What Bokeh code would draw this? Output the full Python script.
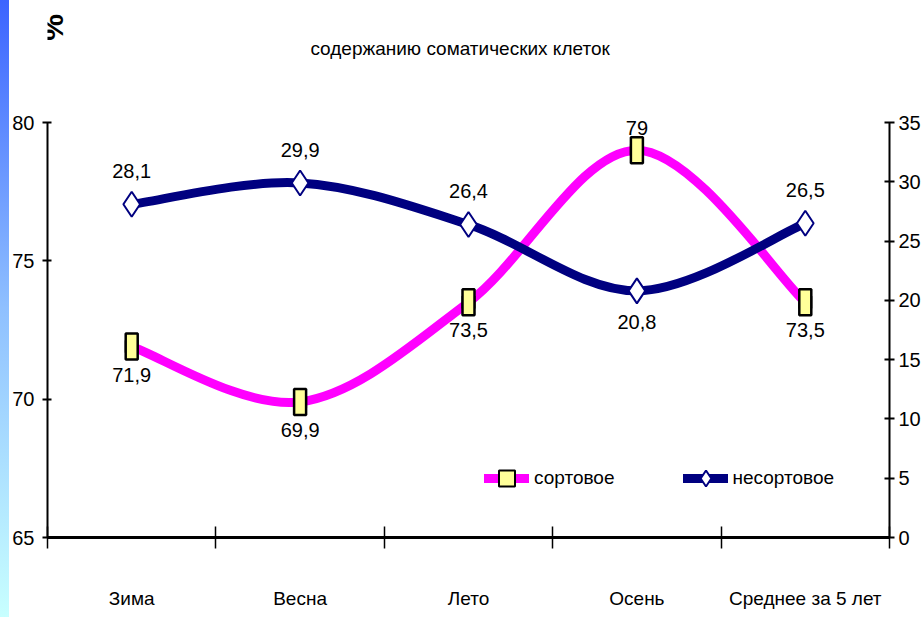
import numpy as np
from bokeh.plotting import figure
from bokeh.models import (Range1d, LinearAxis, FixedTicker, Legend, LegendItem,
                          Div, ColumnDataSource)
from bokeh.layouts import row
from bokeh.core.properties import value
from bokeh.embed import file_html
from bokeh.resources import INLINE

# ---- data ----
categories = ["Зима", "Весна", "Лето", "Осень", "Среднее за 5 лет"]
sortovoe = [71.9, 69.9, 73.5, 79.0, 73.5]          # left axis, %
nesortovoe = [28.1, 29.9, 26.4, 20.8, 26.5]        # right axis
left_ticks = [65, 70, 75, 80]
right_ticks = [0, 5, 10, 15, 20, 25, 30, 35]
series_names = ["сортовое", "несортовое"]
title_text = "содержанию соматических клеток"
unit_text = "%"

FONT = "Liberation Sans"
PINK = "#FF00FF"
NAVY = "#000080"
YELLOW = "#FFFF99"

# layout in pixels
FRAME_TOP_PAD = 122      # space above the 80 / 35 tick inside the frame
FRAME_H = 537            # frame height (page y of x axis)
AXIS_H = FRAME_H - FRAME_TOP_PAD
STRIP_W = 9


def fmt(v):
    return f"{v:g}".replace(".", ",")


def smooth_segments(xs, ys):
    """Bezier segments through the points (Excel-like smoothed line)."""
    n = len(xs)
    d = dict(x0=[], y0=[], x1=[], y1=[], cx0=[], cy0=[], cx1=[], cy1=[])
    for i in range(n - 1):
        a, b = max(i - 1, 0), min(i + 2, n - 1)
        d["x0"].append(xs[i]); d["y0"].append(ys[i])
        d["x1"].append(xs[i + 1]); d["y1"].append(ys[i + 1])
        d["cx0"].append(xs[i] + (xs[i + 1] - xs[a]) / 6)
        d["cy0"].append(ys[i] + (ys[i + 1] - ys[a]) / 6)
        d["cx1"].append(xs[i + 1] - (xs[b] - xs[i]) / 6)
        d["cy1"].append(ys[i + 1] - (ys[b] - ys[i]) / 6)
    return ColumnDataSource(d)


def ext_top(lo, hi):
    return hi + (hi - lo) * FRAME_TOP_PAD / AXIS_H


xpos = list(range(len(categories)))
lmin, lmax = min(left_ticks), max(left_ticks)
rmin, rmax = min(right_ticks), max(right_ticks)
ltop = ext_top(lmin, lmax)

p = figure(width=923 - STRIP_W, height=617, output_backend="svg", toolbar_location=None,
           x_range=Range1d(-0.5, len(categories) - 0.5),
           y_range=Range1d(lmin, ltop),
           min_border_left=38, min_border_right=31, min_border_top=0,
           min_border_bottom=617 - FRAME_H, margin=0)
p.extra_y_ranges = {"right": Range1d(rmin, ext_top(rmin, rmax))}
p.grid.visible = False
p.outline_line_color = None
p.background_fill_color = "white"
p.border_fill_color = "white"

# x axis: labels at category centres, tick marks between categories
xa = p.xaxis[0]
xa.ticker = FixedTicker(ticks=xpos, minor_ticks=[x - 0.5 for x in xpos] + [xpos[-1] + 0.5])
xa.major_label_overrides = {i: c for i, c in enumerate(categories)}
xa.major_tick_line_color = None
xa.major_tick_out = 0
xa.major_tick_in = 0
xa.minor_tick_in = 11
xa.minor_tick_out = 11
xa.minor_tick_line_color = "black"
xa.minor_tick_line_width = 1.5
xa.axis_line_width = 3
xa.axis_line_color = "black"
xa.major_label_standoff = 39
xa.major_label_text_font = FONT
xa.major_label_text_font_size = "19px"
xa.major_label_text_color = "black"

ya = p.yaxis[0]
ya.ticker = FixedTicker(ticks=left_ticks)
ya.bounds = (lmin, lmax)
ya.axis_line_width = 2
ya.major_tick_in = 4
ya.major_tick_out = 5
ya.major_tick_line_width = 2
ya.minor_tick_line_color = None
ya.major_label_standoff = 8
ya.major_label_text_font = FONT
ya.major_label_text_font_size = "20px"
ya.major_label_text_color = "black"

ra = LinearAxis(y_range_name="right", ticker=FixedTicker(ticks=right_ticks),
                bounds=(rmin, rmax))
ra.axis_line_width = 2
ra.major_tick_in = 5
ra.major_tick_out = 5
ra.major_tick_line_width = 2
ra.minor_tick_line_color = None
ra.major_label_standoff = 4
ra.major_label_text_font = FONT
ra.major_label_text_font_size = "20px"
ra.major_label_text_color = "black"
p.add_layout(ra, "right")

# lines
pink_src = smooth_segments(xpos, sortovoe)
navy_src = smooth_segments(xpos, nesortovoe)
pink_line = p.bezier("x0", "y0", "x1", "y1", "cx0", "cy0", "cx1", "cy1", source=pink_src,
                     line_color=PINK, line_width=9, line_cap="round")
navy_line = p.bezier("x0", "y0", "x1", "y1", "cx0", "cy0", "cx1", "cy1", source=navy_src,
                     line_color=NAVY, line_width=9, line_cap="round", y_range_name="right")

# markers
pink_pts = ColumnDataSource(dict(x=xpos, y=sortovoe, lab=[fmt(v) for v in sortovoe]))
navy_pts = ColumnDataSource(dict(x=xpos, y=nesortovoe, lab=[fmt(v) for v in nesortovoe]))
pink_sq = p.scatter("x", "y", source=pink_pts, marker="square", size=12,
                    fill_color=YELLOW, line_color="black", line_width=2)
p.rect("x", "y", width=12, height=26, width_units="screen", height_units="screen",
       source=pink_pts, fill_color=YELLOW, line_color="black", line_width=2.5)
navy_dia = p.scatter("x", "y", source=navy_pts, marker="diamond", size=25,
                     fill_color="white", line_color=NAVY, line_width=2,
                     y_range_name="right")

# data labels: sortovoe below (max above), nesortovoe above (min below)
pmax = max(sortovoe)
nmin = min(nesortovoe)
pink_pts.data["dy"] = [-22 if v == pmax else 28 for v in sortovoe]
navy_pts.data["dy"] = [31 if v == nmin else -33 for v in nesortovoe]
p.text("x", "y", text="lab", source=pink_pts, y_offset="dy",
       text_font=value(FONT), text_font_size="20px", text_color="black",
       text_align="center", text_baseline="middle")
p.text("x", "y", text="lab", source=navy_pts, y_offset="dy", y_range_name="right",
       text_font=value(FONT), text_font_size="20px", text_color="black",
       text_align="center", text_baseline="middle")

legend = Legend(items=[LegendItem(label=series_names[0], renderers=[pink_line, pink_sq]),
                       LegendItem(label=series_names[1], renderers=[navy_line, navy_dia])],
                orientation="horizontal", location=(437, 39),
                glyph_width=45, glyph_height=40, label_standoff=5, spacing=68,
                padding=0, margin=0, border_line_color=None, background_fill_alpha=0,
                label_text_font=FONT, label_text_font_size="19px",
                label_text_color="black")
p.add_layout(legend)

# title and unit mark (drawn in the free space at the top of the frame)
px_per_unit = AXIS_H / (lmax - lmin)
title_y = lmax + (FRAME_TOP_PAD - 48) / px_per_unit
unit_y = lmax + (FRAME_TOP_PAD - 27) / px_per_unit
p.text(x=[(xpos[0] + xpos[-1]) / 2 - 0.05], y=[title_y], text=[title_text],
       text_font=value(FONT), text_font_size="19px", text_color="black",
       text_align="center", text_baseline="middle")
p.text(x=[-0.47], y=[unit_y], text=[unit_text], angle=np.pi / 2,
       text_font=value(FONT), text_font_style="bold", text_font_size="30px",
       text_color="black", text_align="center", text_baseline="middle")

strip = Div(width=STRIP_W, height=617, margin=0, styles={
    "background": "linear-gradient(to bottom, #3c64ff 0%, #8fc0ff 50%, #c8ffff 100%)"})

layout = row(strip, p, spacing=0)
open("out.html", "w").write(file_html(layout, INLINE))
